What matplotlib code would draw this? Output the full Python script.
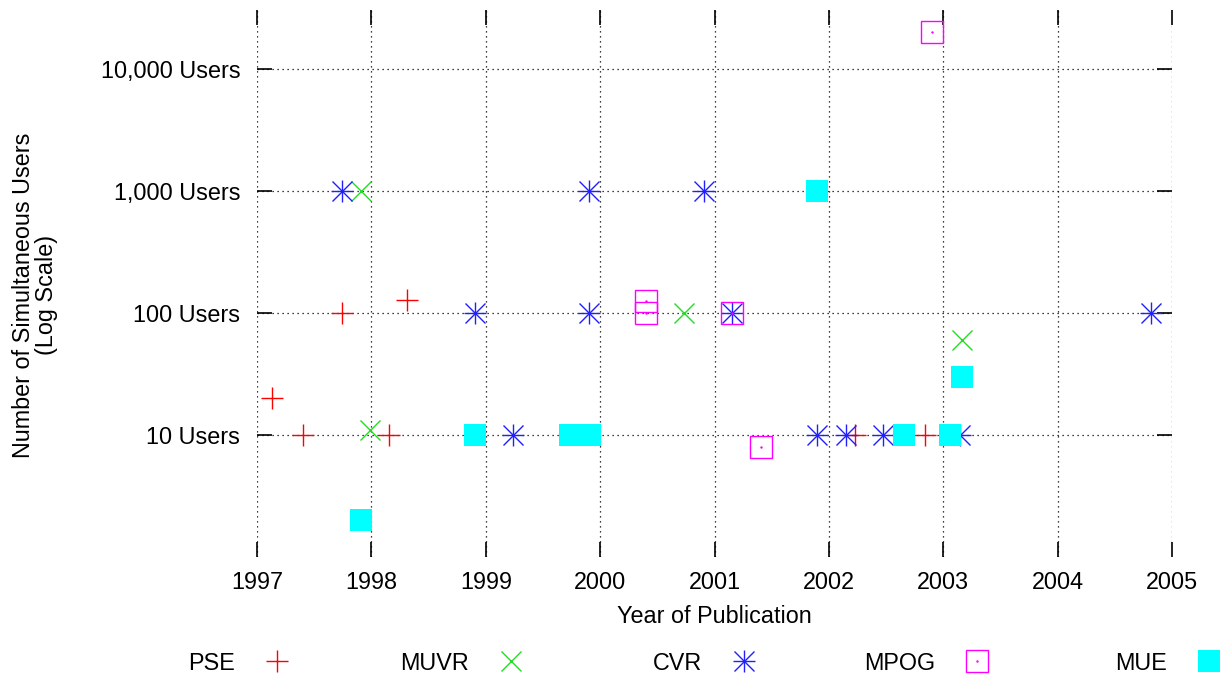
import numpy as np
import matplotlib
matplotlib.use("Agg")
import matplotlib.pyplot as plt
from matplotlib.ticker import FixedLocator, NullLocator
from matplotlib.legend_handler import HandlerTuple

plt.rcParams['font.family'] = ['Liberation Sans', 'DejaVu Sans']

# data (year, simultaneous users)
pse_year = [1997.13, 1997.40, 1997.74, 1998.15, 1998.31, 2002.23, 2002.84]
pse_users = [20, 10, 100, 10, 128, 10, 10]

muvr_year = [1997.91, 1997.99, 2000.73, 2003.16]
muvr_users = [1000, 11, 100, 60]

cvr_year = [1997.74, 1998.91, 1999.24, 1999.90, 1999.90, 2000.91, 2001.15,
            2001.90, 2002.15, 2002.47, 2003.15, 2004.82]
cvr_users = [1000, 100, 10, 1000, 100, 1000, 100, 10, 10, 10, 10, 100]

mpog_year = [2002.90, 2000.40, 2000.40, 2001.15, 2001.41]
mpog_users = [20000, 125, 100, 100, 8]

mue_year = [1997.91, 1998.91, 2001.90, 1999.74, 1999.91, 2002.66, 2003.06, 2003.16]
mue_users = [2, 10, 1000, 10, 10, 10, 10, 30]

years = list(range(1997, 2006))
ytick_vals = [10, 100, 1000, 10000]
ytick_labels = ["10 Users", "100 Users", "1,000 Users", "10,000 Users"]

series_names = ["PSE", "MUVR", "CVR", "MPOG", "MUE"]

fs = 16.8

fig = plt.figure(figsize=(12.25, 6.76), dpi=100)
ax = fig.add_axes([257/1225, 1 - 557/676, (1172-257)/1225, (557-10)/676])

ms = 16
h_pse, = ax.plot(pse_year, pse_users, ls='none', marker='+', ms=ms, mew=1, color='#ff0000')
h_muvr, = ax.plot(muvr_year, muvr_users, ls='none', marker='x', ms=ms*0.9, mew=1, color='#22dd22')
h_cvr1, = ax.plot(cvr_year, cvr_users, ls='none', marker='+', ms=ms, mew=1, color='#2020ff')
h_cvr2, = ax.plot(cvr_year, cvr_users, ls='none', marker='x', ms=ms*0.9, mew=1, color='#2020ff')
h_mpog, = ax.plot(mpog_year, mpog_users, ls='none', marker='s', ms=ms*0.95, mew=1,
                  mfc='none', mec='#ff00ff')
h_dot, = ax.plot(mpog_year, mpog_users, ls='none', marker='.', ms=1.5, color='#ff00ff')
h_mue, = ax.plot(mue_year, mue_users, ls='none', marker='s', ms=ms, mew=0, color='#00ffff')

ax.set_yscale('log')
ax.set_xlim(1997, 2005)
ax.set_ylim(1, 30500)

ax.xaxis.set_major_locator(FixedLocator(years))
ax.set_xticklabels([str(y) for y in years])
ax.yaxis.set_major_locator(FixedLocator(ytick_vals))
ax.set_yticklabels(ytick_labels)
ax.yaxis.set_minor_locator(NullLocator())
ax.xaxis.set_minor_locator(NullLocator())

for s in ax.spines.values():
    s.set_visible(False)

ax.tick_params(axis='both', which='major', direction='in', length=11, width=1.2,
               top=True, right=True, labelsize=fs, color='black')
ax.tick_params(axis='y', pad=12)
ax.tick_params(axis='x', pad=10)
ax.grid(True, which='major', ls=(0, (1, 3)), lw=0.9, color='black')
ax.set_axisbelow(True)

ax.set_xlabel("Year of Publication", fontsize=fs, labelpad=8)
ax.set_ylabel("Number of Simultaneous Users\n(Log Scale)", fontsize=fs,
              linespacing=1.0)
ax.yaxis.set_label_coords(-0.218, 0.479)

# gnuplot-style key: one slot per series, text right-justified before the sample
handles = [h_pse, h_muvr, (h_cvr1, h_cvr2), (h_mpog, h_dot), h_mue]
slot_right = [289, 523, 756, 989, 1221]
for h, name, xr in zip(handles, series_names, slot_right):
    fig.legend([h], [name], loc='center right',
               bbox_to_anchor=(xr/1225, 1 - 663/676), frameon=False,
               markerfirst=False, fontsize=fs, handletextpad=1.3,
               handlelength=1.0, numpoints=1, borderpad=0, borderaxespad=0,
               handler_map={tuple: HandlerTuple(ndivide=1)})

fig.savefig("out.png", dpi=100)
